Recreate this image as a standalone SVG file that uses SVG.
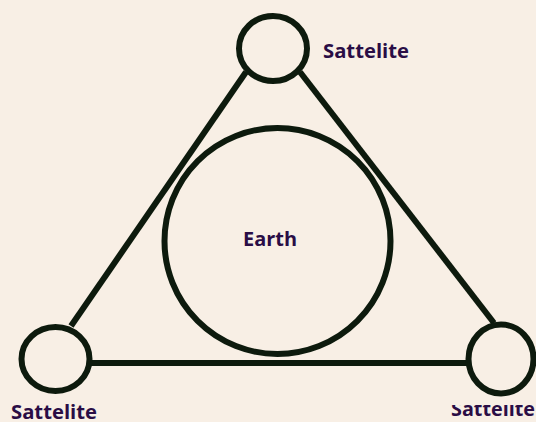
<svg xmlns="http://www.w3.org/2000/svg" width="536" height="422" viewBox="0 0 536 422">
<style>
.c{fill:none;stroke:#0d1a0d;stroke-width:6}
.l{stroke:#0d1a0d;stroke-width:6;fill:none}
.t{font-family:"Open Sans","Noto Sans",sans-serif;font-weight:bold;font-size:20px;fill:#2a0d45}
</style>
<defs><clipPath id="cp"><rect x="440" y="405" width="96" height="17"/></clipPath></defs>
<rect width="536" height="422" fill="#f8efe5"/>
<g id="connectors">
<line class="l" x1="246" y1="72" x2="71" y2="326"/>
<line class="l" x1="300" y1="72" x2="494" y2="323"/>
<line class="l" x1="90" y1="363" x2="470" y2="363"/>
</g>
<g id="earth"><circle class="c" cx="277.5" cy="241" r="113" stroke-width="5.5"/><text class="t" x="243" y="246" textLength="54" lengthAdjust="spacingAndGlyphs">Earth</text></g>
<g id="sat-top"><ellipse class="c" cx="273" cy="48.5" rx="34" ry="32.5"/><text class="t" x="323" y="58" textLength="86" lengthAdjust="spacingAndGlyphs">Sattelite</text></g>
<g id="sat-left"><ellipse class="c" cx="55.5" cy="359" rx="34" ry="32"/><text class="t" x="11" y="419" textLength="86" lengthAdjust="spacingAndGlyphs">Sattelite</text></g>
<g id="sat-right"><ellipse class="c" cx="501" cy="359" rx="32.5" ry="34.5"/><text class="t" x="451" y="416" textLength="84" lengthAdjust="spacingAndGlyphs" clip-path="url(#cp)">Sattelite</text></g>
</svg>
